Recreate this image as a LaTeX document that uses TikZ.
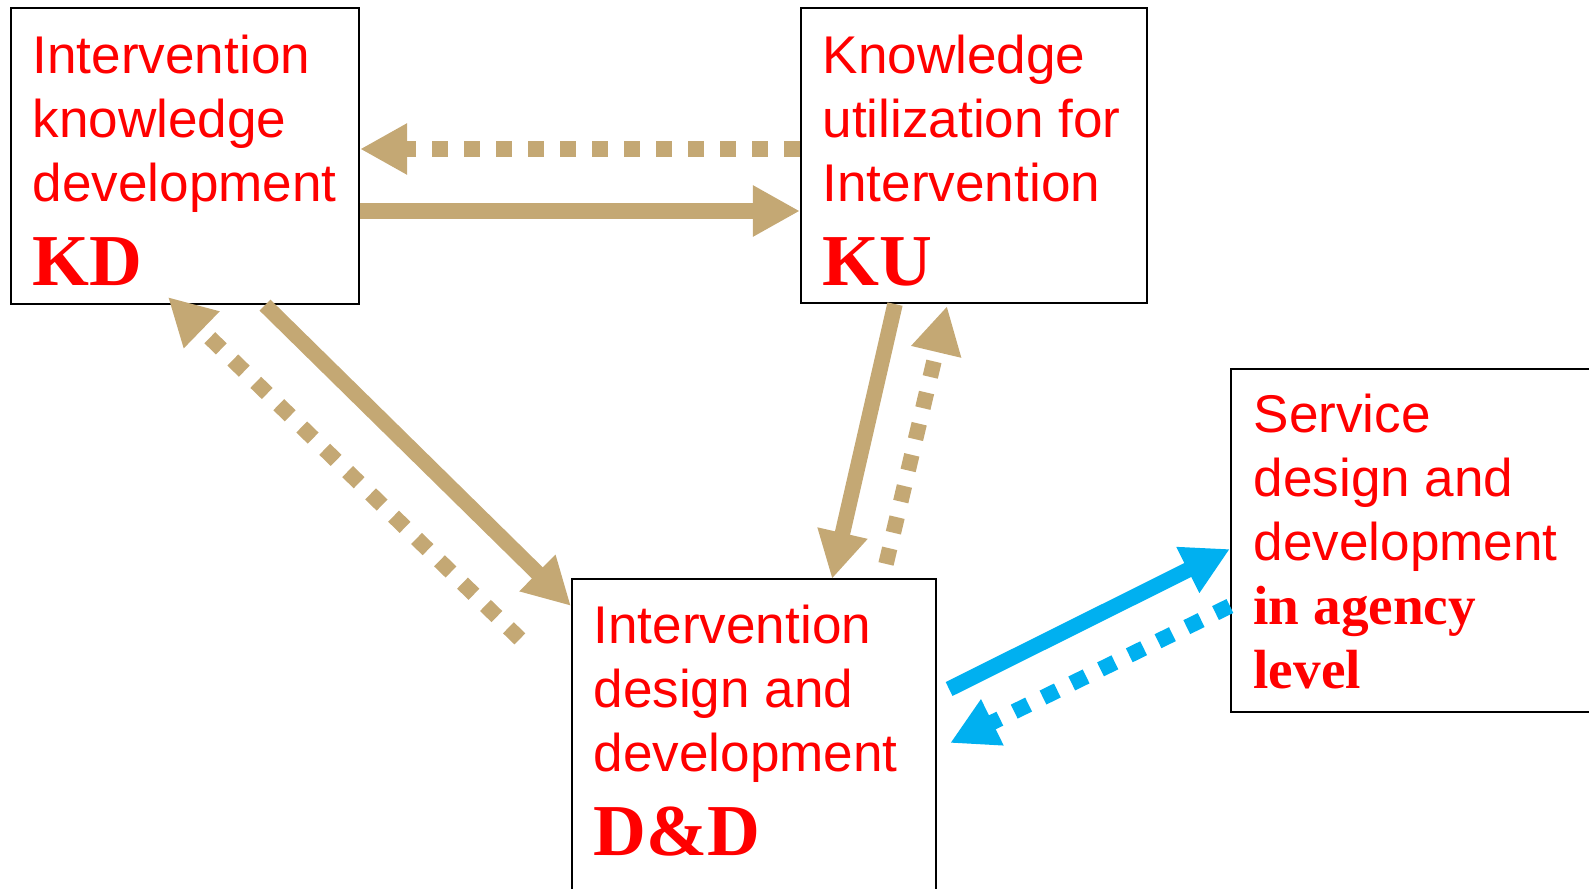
\documentclass[tikz,border=0pt]{standalone}
\usepackage{fontspec}
\setmainfont{Liberation Sans}
\newfontfamily\timesfont{Liberation Serif}
\usetikzlibrary{arrows.meta, calc, positioning}
\definecolor{tan}{RGB}{196,168,116}
\definecolor{skyblue}{RGB}{0,176,240}
\definecolor{boxred}{RGB}{255,0,0}
\tikzset{
    box/.style={draw, line width=0.02cm, rectangle, inner sep=0pt},
    boxtext/.style={anchor=north west, inner sep=0pt, align=left, text=boxred,
        font=\fontsize{15.1pt}{18.2pt}\selectfont},
    link/.style={line width=0.155cm, -{Triangle[length=0.47cm, width=0.48cm]}},
    dots/.style={dash pattern=on 0.16cm off 0.16cm},
}
\newcommand{\abbr}[1]{{\timesfont\bfseries\fontsize{20.8pt}{25pt}\selectfont #1}}
\newcommand{\serifline}[1]{{\timesfont\bfseries\fontsize{15.7pt}{18.2pt}\selectfont #1}}

\begin{document}
\begin{tikzpicture}[x=0.01cm, y=-0.01cm]
    \useasboundingbox (0,0) rectangle (1589,888);
    \clip (0,0) rectangle (1589,888);

    \node[box, minimum width=3.48cm, minimum height=2.96cm] (kd) at (185, 156) {};
    \node[box, minimum width=3.46cm, minimum height=2.95cm] (ku) at (974, 155.5) {};
    \node[box, minimum width=3.64cm, minimum height=3.26cm] (dd) at (754, 742) {};
    \node[box, minimum width=3.69cm, minimum height=3.43cm] (sv) at (1415.5, 540.5) {};

    \node[boxtext] (kdtext) at ($(kd.north west)+(22,27)$)
        {Intervention\\knowledge\\development\\[5.7pt]\abbr{KD}};
    \node[boxtext] (kutext) at ($(ku.north west)+(22,27)$)
        {Knowledge\\utilization for\\Intervention\\[5.7pt]\abbr{KU}};
    \node[boxtext] (ddtext) at ($(dd.north west)+(22,26)$)
        {Intervention\\design and\\development\\[5.7pt]\abbr{D\&D}};
    \node[boxtext] (svtext) at ($(sv.north west)+(23,25)$)
        {Service\\design and\\development\\\serifline{in agency}\\\serifline{level}};

    % KD <-> KU
    \draw[link, tan, dots] ($(ku.west)+(0,-6.5)$) -- ($(kd.east)+(0,-7)$);
    \draw[link, tan] ($(kd.east)+(0,55)$) -- ($(ku.west)+(0,55.5)$);

    % KD <-> D&D
    \draw[link, tan] ($(kd.south)+(80,0)$) -- ($(dd.north west)+(0,28)$);
    \draw[link, tan, dots] ($(dd.north west)+(-51,61)$) -- ($(kd.south)+(-17,-8)$);

    % KU <-> D&D
    \draw[link, tan] ($(ku.south)+(-79,0)$) -- ($(dd.north)+(78,1)$);
    \draw[link, tan, dots] ($(dd.north)+(132,-14)$) -- ($(ku.south)+(-27,2)$);

    % D&D <-> service
    \draw[link, skyblue] ($(dd.east)+(12,-53)$) -- ($(sv.west)+(0,8.5)$);
    \draw[link, skyblue, dots] ($(sv.west)+(0,65.5)$) -- ($(dd.east)+(13,1)$);
\end{tikzpicture}
\end{document}
